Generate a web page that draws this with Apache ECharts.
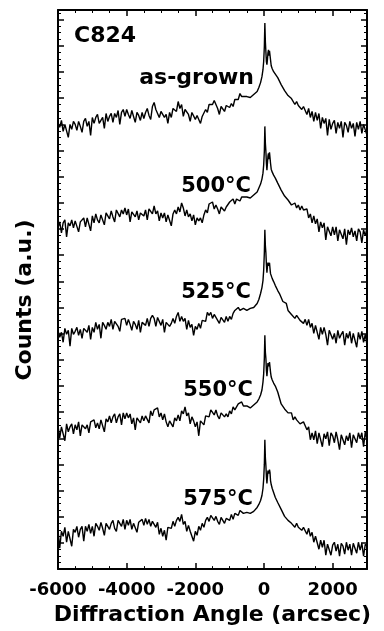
<!DOCTYPE html>
<html><head><meta charset="utf-8">
<script src="https://cdn.jsdelivr.net/npm/echarts@6/dist/echarts.min.js"></script>
<style>html,body{margin:0;padding:0;background:#fff}#c{width:384px;height:631px}</style>
</head><body><div id="c"></div>
<script>
// Diffraction angle (arcsec), shared by all five curves
const angles = [
 -6000,-5950,-5900,-5850,-5800,-5750,-5700,-5650,-5600,-5550,
 -5500,-5450,-5400,-5350,-5300,-5250,-5200,-5150,-5100,-5050,
 -5000,-4950,-4900,-4850,-4800,-4750,-4700,-4650,-4600,-4550,
 -4500,-4450,-4400,-4350,-4300,-4250,-4200,-4150,-4100,-4050,
 -4000,-3950,-3900,-3850,-3800,-3750,-3700,-3650,-3600,-3550,
 -3500,-3450,-3400,-3350,-3300,-3250,-3200,-3150,-3100,-3050,
 -3000,-2950,-2900,-2850,-2800,-2750,-2700,-2650,-2600,-2550,
 -2500,-2450,-2400,-2350,-2300,-2250,-2200,-2150,-2100,-2050,
 -2000,-1950,-1900,-1850,-1800,-1750,-1700,-1650,-1600,-1550,
 -1500,-1450,-1400,-1350,-1300,-1250,-1200,-1150,-1100,-1050,
 -1000,-950,-900,-850,-800,-750,-700,-650,
 -600,-500,-400,-300,-200,-150,-100,-60,-30,-10,10,25,40,55,70,85,100,115,130,145,160,175,190,210,240,280,330,400,
 450,500,550,600,650,700,750,800,850,900,950,1000,1050,1100,1150,1200,
 1250,1300,1350,1400,1450,1500,
 1550,1600,1650,1700,1750,1800,1850,1900,1950,2000,2050,2100,2150,2200,2250,
 2300,2350,2400,2450,2500,2550,2600,2650,2700,2750,2800,2850,2900,2950,3000
];
// Counts (a.u.; the five curves are offset vertically as in the figure)
const asGrown = [
 449,444,451,440,447,449,434,447,442,450,
 447,441,450,445,439,450,453,445,450,436,
 454,448,454,457,448,451,454,443,458,450,
 455,458,449,458,454,461,447,459,462,455,
 462,457,453,461,459,449,459,456,451,459,
 453,459,463,456,452,465,469,462,464,454,
 460,461,454,457,448,459,454,463,463,460,
 470,463,467,455,462,462,457,450,459,457,
 452,456,457,448,455,455,462,459,467,469,
 467,471,470,463,457,465,464,460,466,468,
 464,468,465,472,473,472,478,475,
 473,475,474,477,480,484,489,495,502,510,525,549,530,520,510,507,512,519,522,516,521,523,512,506,503,500,498,494,
 492,487,487,481,481,476,478,473,473,467,470,466,468,462,465,465,
 457,463,454,460,450,459,
 451,458,443,454,448,453,436,452,442,448,451,438,449,443,450,
 434,449,446,439,450,443,448,435,449,442,450,438,447,449,436
];
const t500 = [
 343,349,338,348,351,334,348,345,351,343,
 350,352,339,349,347,353,344,353,352,340,
 355,348,357,351,348,356,356,346,358,355,
 352,360,354,349,361,359,354,361,357,363,
 356,362,349,359,360,354,360,351,358,360,
 355,361,351,362,361,357,365,357,360,350,
 358,353,358,349,356,356,345,357,361,357,
 364,359,368,363,355,361,354,357,350,356,
 346,353,350,353,348,356,361,358,367,365,
 369,362,366,362,357,364,365,360,364,362,
 369,367,372,367,372,373,370,374,
 372,374,373,376,379,383,387,392,398,406,420,445,428,420,408,401,408,415,418,412,419,417,408,402,399,396,393,388,
 387,381,381,375,377,371,372,366,368,368,363,366,361,365,361,363,
 362,353,357,348,355,347,
 352,339,349,343,348,331,344,342,335,344,336,344,330,341,342,
 332,342,326,341,336,343,334,340,330,342,339,328,341,335,343
];
const t525 = [
 240,233,238,228,242,236,240,224,242,236,
 239,243,235,241,232,242,244,238,245,231,
 243,238,248,241,246,232,248,245,241,248,
 244,251,241,249,251,244,239,251,249,252,
 245,251,246,240,249,246,241,250,238,248,
 250,245,252,244,252,255,252,244,253,251,
 245,251,238,248,249,244,247,252,247,254,
 258,249,254,249,252,241,250,243,246,235,
 244,241,247,242,250,251,249,258,255,258,
 252,256,256,250,247,253,252,248,254,249,
 254,251,257,260,258,263,260,262,
 262,260,262,263,267,271,277,283,290,300,318,341,325,318,306,298,304,308,310,305,308,302,297,295,292,289,285,280,
 277,276,269,269,267,260,260,256,258,252,255,255,250,252,247,251,
 245,251,243,247,237,245,
 243,231,243,236,243,236,225,240,240,231,237,227,240,232,236,
 239,225,237,232,239,227,237,236,223,238,231,239,228,236,225
];
const t550 = [
 144,132,143,141,129,146,138,143,146,136,
 145,140,148,134,145,147,141,145,137,148,
 147,150,142,147,141,150,152,138,151,148,
 154,147,153,156,147,153,156,145,157,151,
 157,152,156,146,152,140,152,151,147,154,
 149,154,153,147,159,154,160,160,162,153,
 157,150,156,148,143,149,146,143,152,149,
 155,149,159,156,163,154,157,146,153,149,
 143,148,134,149,149,145,154,153,153,160,
 162,155,160,154,151,157,158,153,156,153,
 159,156,163,160,161,166,167,168,
 164,164,162,165,168,171,175,180,188,196,212,235,218,212,200,194,200,207,209,204,208,206,198,193,190,187,184,178,
 172,166,167,161,162,157,158,157,150,153,150,152,146,148,148,144,
 140,143,130,137,130,139,
 126,137,138,123,136,131,138,124,137,134,127,138,130,120,135,
 136,125,134,129,137,122,135,134,127,137,131,137,123,138,130
];
const t575 = [
 39,21,38,33,42,27,38,40,23,40,
 37,43,32,40,43,28,43,38,45,36,
 43,33,46,43,39,47,41,34,46,47,
 40,46,49,41,38,49,46,43,50,40,
 49,44,50,40,46,48,37,47,45,50,
 44,51,45,50,43,48,48,42,47,35,
 41,33,39,29,42,44,41,48,43,49,
 52,48,55,45,48,38,44,38,40,28,
 38,34,43,39,46,42,49,52,48,54,
 55,49,53,48,45,52,50,46,51,51,
 49,55,50,56,56,54,59,58,
 56,57,56,58,62,65,69,74,81,90,105,130,112,104,93,86,93,99,101,96,100,97,89,85,81,77,72,67,
 66,60,59,53,54,49,50,46,47,42,46,42,44,39,42,42,
 35,41,33,37,27,33,
 32,20,29,22,29,14,25,26,14,24,27,18,25,13,26,
 23,15,27,19,25,14,26,24,16,27,19,26,13,25,23
];
const curveNames = ['as-grown','500°C','525°C','550°C','575°C'];
const curveValues = [asGrown, t500, t525, t550, t575];
const xTickValues = [-6000,-4000,-2000,0,2000];
const xTickLabels = ['-6000','-4000','-2000','0','2000'];

const FONT = '"DejaVu Sans", sans-serif';
const chart = echarts.init(document.getElementById('c'), null, {renderer:'canvas'});

const tickStyle = {show:true, inside:true, interval:0, length:6, lineStyle:{color:'#000', width:1.5}};
const minorStyle = {show:true, splitNumber:4, length:3, lineStyle:{color:'#000', width:1}};
const frameLine = {show:true, onZero:false, lineStyle:{color:'#000', width:2}};

function txt(text, x, y, align, size, rot){
  return {type:'text', x:x, y:y, rotation: rot||0, silent:true, z:10,
    style:{text:text, font:'bold '+size+'px '+FONT, fill:'#000',
      align:align, textAlign:align, verticalAlign:'middle', textVerticalAlign:'middle'}};
}

chart.setOption({
  animation:false,
  backgroundColor:'#fff',
  grid:{left:58, right:17, top:10, bottom:59},
  xAxis:[{
    type:'value', min:-6000, max:3000, interval:2000,
    axisLine:frameLine, axisTick:tickStyle, minorTick:minorStyle,
    splitLine:{show:false},
    axisLabel:{show:true, showMaxLabel:false, margin:12, color:'#000',
      fontFamily:FONT, fontWeight:'bold', fontSize:18,
      formatter:function(v){ const i=xTickValues.indexOf(v); return i>=0?xTickLabels[i]:''; }},
    name:'Diffraction Angle (arcsec)', nameLocation:'middle', nameGap:32,
    nameTextStyle:{color:'#000', fontFamily:FONT, fontWeight:'bold', fontSize:22}
  },{
    type:'value', position:'top', min:-6000, max:3000, interval:2000,
    axisLine:frameLine, axisTick:tickStyle, minorTick:minorStyle,
    splitLine:{show:false}, axisLabel:{show:false}
  }],
  yAxis:[{
    type:'value', position:'left', min:0, max:562, interval:26.3,
    axisLine:frameLine, axisTick:tickStyle, minorTick:minorStyle,
    splitLine:{show:false}, axisLabel:{show:false}
  },{
    type:'value', position:'right', min:0, max:562, interval:26.3,
    axisLine:frameLine, axisTick:tickStyle, minorTick:minorStyle,
    splitLine:{show:false}, axisLabel:{show:false}
  }],
  series: curveValues.map(function(vals, k){
    return {type:'line', name:curveNames[k], xAxisIndex:0, yAxisIndex:0,
      data: angles.map(function(a,i){ return [a, vals[i]]; }),
      showSymbol:false, symbol:'none', sampling:null,
      lineStyle:{color:'#000', width:1.4}, z:3};
  }),
  graphic:[
    txt('C824', 74, 36, 'left', 22),
    txt('as-grown', 254, 78, 'right', 22),
    txt('500°C', 251, 187, 'right', 21),
    txt('525°C', 251, 293, 'right', 21),
    txt('550°C', 253, 391, 'right', 21),
    txt('575°C', 253, 500, 'right', 21),
    txt('Counts (a.u.)', 25, 300, 'center', 22, Math.PI/2)
  ]
});
</script></body></html>
